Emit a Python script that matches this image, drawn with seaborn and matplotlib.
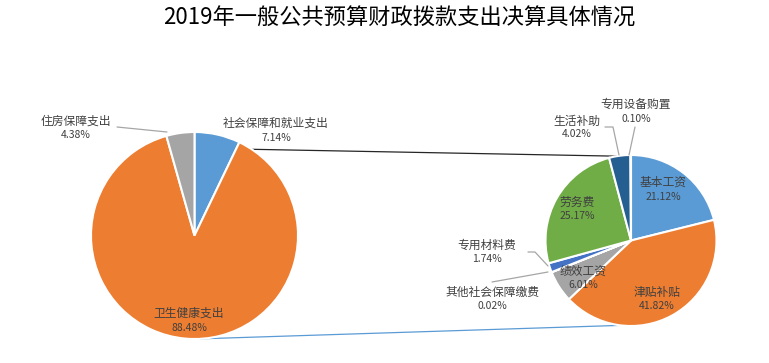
import numpy as np
import matplotlib
matplotlib.use("Agg")
import matplotlib.pyplot as plt
import seaborn as sns

# ---- data ----
title = "2019年一般公共预算财政拨款支出决算具体情况"
main_labels = ["社会保障和就业支出", "卫生健康支出", "住房保障支出"]
main_values = [7.14, 88.48, 4.38]
sub_labels = ["基本工资", "津贴补贴", "绩效工资", "其他社会保障缴费", "专用材料费",
              "劳务费", "生活补助", "专用设备购置"]
sub_values = [21.12, 41.82, 6.01, 0.02, 1.74, 25.17, 4.02, 0.10]

sns.set_theme(style="white")
plt.rcParams['font.family'] = ['Noto Sans CJK SC', 'DejaVu Sans']

W, H = 769, 363
fig = plt.figure(figsize=(W / 100, H / 100), dpi=100)
ax = fig.add_axes([0, 0, 1, 1])
ax.set_xlim(0, W)
ax.set_ylim(0, H)
ax.set_aspect('equal')
ax.axis('off')

def Y(py):
    return H - py

pal = sns.color_palette(["#5B9BD5", "#ED7D31", "#A5A5A5", "#FFC000", "#4472C4",
                         "#70AD47", "#255E91", "#9E480E"])

# pies (geometry)
c1, r1 = (194.5, Y(235.5)), 103.5
c2, r2 = (631.0, Y(240.5)), 85.5

wp = dict(edgecolor='white', linewidth=1.5)
ax.pie(main_values, colors=pal[:3], startangle=90, counterclock=False,
       center=c1, radius=r1, wedgeprops=wp, frame=True)
ax.pie(sub_values, colors=pal[:8], startangle=90, counterclock=False,
       center=c2, radius=r2, wedgeprops=wp, frame=True)
ax.set_xlim(0, W)
ax.set_ylim(0, H)
ax.axis('off')

def pt(c, r, deg):
    a = np.deg2rad(deg)
    return c[0] + r * np.cos(a), c[1] + r * np.sin(a)

# connectors between the two pies
p1 = pt(c1, r1, 56.4); p2 = pt(c2, r2, 99.5)
ax.plot([p1[0], p2[0]], [p1[1], p2[1]], color='#262626', lw=0.9, zorder=0)
p3 = pt(c1, r1, -87); p4 = pt(c2, r2, -97)
ax.plot([p3[0], p4[0]], [p3[1], p4[1]], color='#5B9BD5', lw=0.9, zorder=0)

# labels: (name, pct) positions in pixels (x, y_name, y_pct)
txtc = '#404040'
def label(name, val, x, yn, yp):
    ax.text(x, Y(yn), name, ha='center', va='center', fontsize=8.5, color=txtc)
    ax.text(x, Y(yp), f"{val:.2f}%", ha='center', va='center', fontsize=7.5, color=txtc)

main_pos = [(276, 123, 138), (189, 313, 328), (76, 121, 135)]
for n, v, (x, yn, yp) in zip(main_labels, main_values, main_pos):
    label(n, v, x, yn, yp)

sub_pos = [(663, 182, 197), (657, 292, 306), (583, 271, 285), (492, 292, 306),
           (487, 245, 259), (577, 202, 216), (577, 121, 134), (636, 104, 119)]
for n, v, (x, yn, yp) in zip(sub_labels, sub_values, sub_pos):
    label(n, v, x, yn, yp)

# leader lines
lc = '#A6A6A6'
def leader(pts):
    xs = [p[0] for p in pts]; ys = [Y(p[1]) for p in pts]
    ax.plot(xs, ys, color=lc, lw=0.9, zorder=3)

leader([(117, 127), (167, 132)])
leader([(635, 127), (629, 155)])
leader([(605, 127), (613, 127), (619, 155)])
leader([(528, 252), (535, 252), (548, 266)])
leader([(492, 282), (548, 272)])

ax.text(W / 2 + 15, Y(18), title, ha='center', va='center', fontsize=16, color='black')

fig.savefig("out.png", dpi=100)
